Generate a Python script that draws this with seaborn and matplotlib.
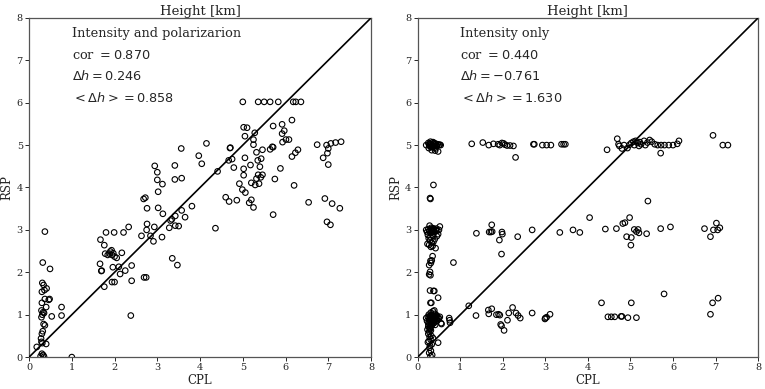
import numpy as np
import pandas as pd
import matplotlib
matplotlib.use("Agg")
import matplotlib.pyplot as plt
import seaborn as sns

# ---- data: Intensity and polarizarion (left panel) ----
cpl_ip = [
    # low cluster near x~0.3
    0.37, 0.32, 0.49, 0.31, 0.34, 0.41, 0.36, 0.30, 0.48, 0.46, 0.37, 0.30, 0.40, 0.29, 0.33, 0.35,
    0.31, 0.29, 0.34, 0.37, 0.32, 0.30, 0.28, 0.29, 0.31, 0.40, 0.18, 0.30, 0.33, 0.35, 0.27,
    0.76, 0.76, 0.53, 1.00,
    # x 1.6 - 2.8
    1.66, 1.70, 1.69, 1.96, 2.10, 2.13, 2.25, 2.40, 1.94, 2.00, 1.76, 2.40, 2.69, 2.74, 2.38,
    1.67, 1.76, 1.80, 1.99, 2.21, 2.33, 1.90, 1.94, 2.00, 2.05, 2.17, 1.84, 1.88, 1.97, 1.93, 1.78,
    3.35, 3.47,
    # x 2.6 - 3.7
    2.63, 2.75, 2.76, 2.93, 2.91, 3.11, 3.28, 3.50, 2.84, 2.68, 2.72, 2.76, 3.02, 3.13, 3.02, 3.00,
    3.12, 2.94, 3.00, 3.41, 3.41, 3.57, 3.31, 3.34, 3.42, 3.57, 3.65, 3.42,
    # x 3.5 - 4.5
    3.56, 4.15, 3.97, 4.04, 4.41, 4.36, 3.81,
    # x 4.5 - 5.5
    4.70, 4.71, 4.67, 4.75, 4.79, 4.92, 4.99, 5.06, 4.60, 4.68, 4.86, 5.20, 5.15, 5.25, 5.02, 5.02,
    5.05, 5.18, 5.35, 5.43, 5.40, 5.36, 5.46, 5.42, 5.32, 5.20, 5.29, 5.38, 5.32, 5.46, 5.25, 5.25,
    5.05, 5.28, 5.02, 5.10, 5.00, 5.36, 5.50,
    # x 5.5 - 6.5
    5.64, 5.83, 6.18, 6.24, 6.36, 6.15, 5.92, 5.71, 5.97, 5.92, 6.01, 6.08, 5.93, 5.69, 5.71, 5.64,
    6.29, 6.23, 6.15, 5.88, 5.75, 6.20, 5.71,
    # x 6.5 - 7.3
    6.74, 6.96, 7.06, 7.17, 7.30, 7.00, 6.98, 6.88, 7.00, 6.54, 6.92, 7.09, 7.27, 6.97, 7.05,
]
rsp_ip = [
    2.96, 2.23, 2.08, 1.75, 1.70, 1.62, 1.58, 1.54, 1.37, 1.35, 1.37, 1.28, 1.18, 1.10, 1.06, 1.04,
    1.00, 0.94, 0.78, 0.75, 0.61, 0.55, 0.44, 0.36, 0.33, 0.31, 0.24, 0.08, 0.05, 0.01, 0.02,
    1.18, 0.98, 0.96, 0.00,
    2.20, 2.04, 2.03, 2.12, 2.13, 1.96, 2.04, 2.16, 1.77, 1.77, 1.66, 1.80, 1.88, 1.88, 0.98,
    2.77, 2.64, 2.94, 2.94, 2.94, 3.07, 2.49, 2.41, 2.37, 2.34, 2.46, 2.41, 2.44, 2.45, 2.52, 2.44,
    2.33, 2.17,
    2.86, 3.00, 3.14, 3.07, 2.73, 2.83, 3.05, 3.09, 2.86, 3.73, 3.76, 3.51, 3.52, 3.38, 3.90, 4.18,
    4.08, 4.51, 4.36, 4.52, 4.19, 4.22, 3.22, 3.25, 3.33, 3.46, 3.30, 3.10,
    4.92, 5.04, 4.75, 4.56, 4.38, 3.04, 3.56,
    4.93, 4.94, 4.64, 4.67, 4.47, 4.09, 3.95, 3.88, 3.77, 3.67, 3.70, 3.71, 3.64, 3.53, 4.44, 4.29,
    4.70, 4.53, 4.64, 4.68, 4.49, 4.30, 4.30, 4.24, 4.21, 4.11, 4.06, 4.09, 4.83, 4.89, 5.01, 5.13,
    5.21, 5.29, 5.42, 5.41, 6.02, 6.02, 6.02,
    6.02, 6.02, 6.02, 6.02, 6.02, 5.59, 5.49, 5.45, 5.34, 5.27, 5.13, 5.13, 5.07, 4.96, 4.95, 4.90,
    4.89, 4.82, 4.73, 4.45, 4.20, 4.05, 3.36,
    5.01, 5.00, 5.04, 5.06, 5.08, 4.92, 4.81, 4.70, 4.54, 3.65, 3.74, 3.62, 3.51, 3.19, 3.12,
]

# ---- data: Intensity only (right panel) ----
cpl_io = [
    # y~5 cluster near x~0.3
    0.20, 0.25, 0.28, 0.30, 0.32, 0.34, 0.35, 0.37, 0.38, 0.40, 0.42, 0.43, 0.45, 0.47, 0.50, 0.52,
    0.54, 0.26, 0.33, 0.41, 0.48, 0.29, 0.36, 0.31, 0.39, 0.44, 0.27,
    # y~5 row
    1.27, 1.53, 1.67, 1.78, 1.89, 1.93, 1.98, 2.02, 2.05, 2.10, 2.17, 2.25, 2.30, 2.72, 2.74, 2.93,
    3.03, 3.13, 3.38, 3.43, 3.47, 4.45, 4.69, 4.72, 4.74, 4.80, 4.85, 4.98, 5.02, 5.07, 5.12, 5.17,
    5.22, 5.25, 5.32, 5.40, 5.45, 5.50, 5.57, 5.64, 5.71, 5.72, 5.80, 5.90, 6.00, 6.10, 6.14, 6.94,
    7.17, 7.29, 4.93, 5.09, 5.20, 5.35,
    # y~4
    0.37, 0.29, 0.30, 5.41,
    # y~3 cluster near x~0.3
    0.20, 0.22, 0.25, 0.27, 0.28, 0.30, 0.31, 0.32, 0.33, 0.34, 0.35, 0.36, 0.37, 0.38, 0.40, 0.42,
    0.44, 0.46, 0.50, 0.52, 0.48, 0.24, 0.26, 0.29, 0.33, 0.37, 0.40, 0.23, 0.27, 0.31, 0.35, 0.42,
    0.36, 0.30, 0.45,
    # x~0.3, y 1.3 - 2.4
    0.35, 0.33, 0.30, 0.31, 0.27, 0.29, 0.30, 0.27, 0.84, 0.29, 0.37, 0.39, 0.48, 0.30, 0.32,
    # y~1 cluster near x~0.3
    0.20, 0.22, 0.24, 0.25, 0.26, 0.27, 0.28, 0.29, 0.30, 0.31, 0.32, 0.33, 0.34, 0.35, 0.36, 0.37,
    0.38, 0.39, 0.40, 0.41, 0.42, 0.43, 0.44, 0.45, 0.46, 0.48, 0.50, 0.52, 0.55, 0.23, 0.25, 0.27,
    0.29, 0.31, 0.33, 0.35, 0.37, 0.39, 0.41, 0.43, 0.28, 0.30, 0.32, 0.34, 0.36, 0.38, 0.40, 0.26,
    0.30, 0.34, 0.38, 0.33, 0.35, 0.31, 0.29,
    0.74, 0.75, 0.76, 0.56, 0.48,
    # below the y~1 cluster
    0.25, 0.28, 0.30, 0.26, 0.33, 0.28, 0.31, 0.27, 0.34, 0.30, 0.36, 0.24, 0.32, 0.29,
    # y~1 row
    1.20, 1.37, 1.66, 1.74, 1.67, 1.85, 1.90, 1.93, 1.95, 1.97, 2.03, 2.11, 2.14, 2.23, 2.31, 2.36,
    2.41, 2.69, 2.99, 3.00, 3.03, 3.11, 4.32, 4.47, 4.55, 4.63, 4.78, 4.80, 4.94, 5.02, 5.14, 5.79,
    6.88, 6.93, 7.06,
    # y~3 row
    1.38, 1.68, 1.72, 1.75, 1.74, 1.98, 1.99, 1.92, 1.97, 2.35, 2.69, 3.34, 3.65, 3.81, 4.04, 4.41,
    4.67, 4.82, 4.87, 4.98, 4.91, 5.02, 5.09, 5.14, 5.18, 5.20, 5.01, 5.38, 5.71, 5.94, 6.74, 6.88,
    6.95, 7.02, 7.05, 7.10,
]
rsp_io = [
    5.00, 5.05, 4.98, 5.08, 5.02, 4.95, 5.00, 5.04, 4.97, 5.01, 4.92, 5.03, 4.99, 5.02, 5.00, 5.01,
    5.00, 4.93, 4.88, 4.87, 4.85, 5.03, 5.07, 4.96, 5.05, 4.98, 5.01,
    5.03, 5.06, 5.00, 5.03, 5.02, 5.00, 5.05, 5.04, 5.01, 4.99, 4.99, 4.98, 4.71, 5.02, 5.02, 5.00,
    5.00, 5.00, 5.02, 5.02, 5.02, 4.89, 5.15, 5.02, 4.98, 4.92, 5.00, 5.01, 5.05, 5.08, 5.10, 5.05,
    5.07, 5.02, 5.10, 5.06, 5.12, 5.08, 5.02, 5.00, 4.81, 5.00, 5.00, 5.00, 5.00, 5.03, 5.10, 5.23,
    5.00, 5.00, 4.93, 5.00, 4.98, 5.00,
    4.06, 3.75, 3.73, 3.68,
    3.00, 2.95, 3.02, 2.97, 3.10, 3.00, 2.93, 3.05, 2.98, 3.01, 2.96, 3.04, 2.99, 3.02, 2.95, 3.00,
    3.03, 2.98, 3.00, 3.08, 2.90, 2.88, 2.80, 2.75, 2.70, 2.72, 2.78, 2.67, 2.65, 2.60, 2.62, 2.57,
    2.86, 2.83, 2.85,
    2.38, 2.28, 2.27, 2.22, 2.17, 2.01, 1.93, 1.95, 2.23, 1.57, 1.56, 1.56, 1.40, 1.28, 1.28,
    0.92, 0.85, 0.95, 0.78, 1.00, 0.88, 0.70, 0.97, 0.82, 1.05, 0.91, 0.75, 0.99, 0.86, 1.08, 0.93,
    0.80, 0.96, 0.89, 1.02, 0.84, 0.94, 0.90, 0.98, 0.87, 0.93, 0.91, 0.95, 0.80, 0.65, 0.72, 0.60,
    0.68, 0.63, 0.90, 0.95, 0.85, 1.10, 0.76, 0.97, 0.92, 0.87, 0.98, 0.83, 0.94, 0.89, 0.97, 0.82,
    0.94, 0.90, 0.86, 1.00, 0.79, 0.73, 0.66,
    0.92, 0.87, 0.81, 0.78, 0.34,
    0.55, 0.48, 0.42, 0.38, 0.30, 0.22, 0.15, 0.10, 0.05, 0.02, 0.45, 0.35, 0.50, 0.27,
    1.21, 0.98, 1.11, 1.14, 1.02, 1.00, 1.01, 0.99, 0.77, 0.74, 0.63, 0.87, 1.04, 1.17, 1.04, 0.98,
    0.92, 1.04, 0.90, 0.92, 0.94, 1.01, 1.28, 0.95, 0.95, 0.95, 0.96, 0.96, 0.93, 1.28, 0.93, 1.49,
    1.01, 1.28, 1.39,
    2.92, 2.95, 2.95, 2.96, 3.12, 2.95, 2.90, 2.76, 2.43, 2.84, 3.00, 2.94, 3.00, 2.94, 3.29, 3.02,
    3.03, 3.15, 3.17, 3.29, 2.84, 2.82, 3.01, 2.96, 3.01, 2.93, 2.64, 2.91, 3.03, 3.07, 3.03, 2.84,
    3.00, 3.16, 3.00, 3.05,
]

panels = [
    ("Intensity and polarizarion", cpl_ip, rsp_ip, "0.870", "0.246", "0.858"),
    ("Intensity only", cpl_io, rsp_io, "0.440", "-0.761", "1.630"),
]
ticks = [0, 1, 2, 3, 4, 5, 6, 7, 8]

sns.set_style("ticks")
plt.rcParams['font.family'] = ['DejaVu Serif']
plt.rcParams['mathtext.fontset'] = 'dejavusans'

fig = plt.figure(figsize=(7.65, 3.89), dpi=100)
ax_l = fig.add_axes([0.038, 0.082, 0.447, 0.872])
ax_r = fig.add_axes([0.546, 0.082, 0.445, 0.872])

for ax, (name, xs, ys, cor, dh, mdh) in zip([ax_l, ax_r], panels):
    df = pd.DataFrame({'CPL': xs, 'RSP': ys})
    sns.scatterplot(data=df, x='CPL', y='RSP', ax=ax, marker='o', s=16,
                    facecolor='none', edgecolor='black', linewidth=0.8, zorder=2)
    ax.plot([ticks[0], ticks[-1]], [ticks[0], ticks[-1]], color='black', lw=1.2, zorder=3)
    ax.set_xlim(ticks[0], ticks[-1])
    ax.set_ylim(ticks[0], ticks[-1])
    ax.set_xticks(ticks)
    ax.set_yticks(ticks)
    ax.tick_params(labelsize=7, length=3, width=0.7, pad=1.5)
    for sp in ax.spines.values():
        sp.set_linewidth(0.9)
        sp.set_color('#555555')
    ax.set_title('Height [km]', fontsize=9.5, pad=2)
    ax.set_xlabel('CPL', fontsize=8.5, labelpad=1)
    ax.set_ylabel('RSP', fontsize=8.5, labelpad=2)

    ax.text(1.0, 7.63, name, fontsize=9.3, va='center')
    ax.text(1.0, 7.12, 'cor $=' + cor + '$', fontsize=9.3, va='center')
    ax.text(1.0, 6.62, r'$\Delta h=' + dh + '$', fontsize=9.3, va='center')
    ax.text(1.0, 6.11, r'$<\Delta h>=' + mdh + '$', fontsize=9.3, va='center')

fig.savefig('out.png', dpi=100)
